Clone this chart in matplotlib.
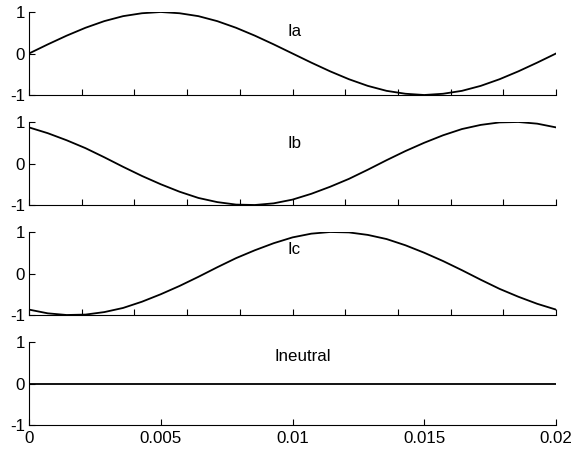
import matplotlib
matplotlib.use("Agg")
import matplotlib.pyplot as plt

plt.rcParams['font.family'] = ['Liberation Sans', 'DejaVu Sans']
plt.rcParams['axes.unicode_minus'] = False

t = [0.0, 0.000714, 0.001429, 0.002143, 0.002857, 0.003571, 0.004286, 0.005,
     0.005714, 0.006429, 0.007143, 0.007857, 0.008571, 0.009286, 0.01,
     0.010714, 0.011429, 0.012143, 0.012857, 0.013571, 0.014286, 0.015,
     0.015714, 0.016429, 0.017143, 0.017857, 0.018571, 0.019286, 0.02]

Ia = [0.0, 0.22, 0.43, 0.62, 0.78, 0.90, 0.97, 1.0, 0.97, 0.90, 0.78, 0.62,
      0.43, 0.22, 0.0, -0.22, -0.43, -0.62, -0.78, -0.90, -0.97, -1.0, -0.97,
      -0.90, -0.78, -0.62, -0.43, -0.22, 0.0]

Ib = [0.87, 0.73, 0.56, 0.37, 0.15, -0.08, -0.30, -0.50, -0.68, -0.83, -0.93,
      -0.99, -1.0, -0.96, -0.87, -0.73, -0.56, -0.37, -0.15, 0.08, 0.30, 0.50,
      0.68, 0.83, 0.93, 0.99, 1.0, 0.96, 0.87]

Ic = [-0.87, -0.96, -1.0, -0.99, -0.93, -0.83, -0.68, -0.50, -0.30, -0.08,
      0.15, 0.37, 0.56, 0.73, 0.87, 0.96, 1.0, 0.99, 0.93, 0.83, 0.68, 0.50,
      0.30, 0.08, -0.15, -0.37, -0.56, -0.73, -0.87]

In = [0.0] * len(t)

series = [Ia, Ib, Ic, In]
names = ['Ia', 'Ib', 'Ic', 'Ineutral']
label_pos = [(0.0098, 0.54), (0.0098, 0.49), (0.0098, 0.57), (0.0093, 0.64)]

minor_ticks = [0, 0.002, 0.004, 0.006, 0.008, 0.01, 0.012, 0.014, 0.016, 0.018, 0.02]
major_ticks = [0, 0.005, 0.01, 0.015, 0.02]
major_labels = ['0', '0.005', '0.01', '0.015', '0.02']
yticks = [-1, 0, 1]
ylabels = ['-1', '0', '1']

W, H = 573, 449
fig = plt.figure(figsize=(W / 100, H / 100), dpi=100)

FS = 12.2
left = 29 / W
width = 527 / W
for i, (y, name, lp) in enumerate(zip(series, names, label_pos)):
    top = 12 + 110 * i
    bot = 95 + 110 * i
    ax = fig.add_axes([left, 1 - bot / H, width, (bot - top) / H])
    ax.plot(t, y, color='black', linewidth=1.3)
    ax.set_xlim(0, 0.02)
    ax.set_ylim(-1, 1)
    for s in ['top', 'right']:
        ax.spines[s].set_visible(False)
    for s in ['left', 'bottom']:
        ax.spines[s].set_linewidth(0.8)
        ax.spines[s].set_color('black')
    ax.set_yticks(yticks)
    ax.set_yticklabels(ylabels)
    if i < 3:
        ax.set_xticks(minor_ticks)
        ax.set_xticklabels([])
    else:
        ax.set_xticks(major_ticks)
        ax.set_xticklabels(major_labels)
    ax.tick_params(direction='in', length=4, width=0.8, labelsize=FS)
    ax.tick_params(axis='x', pad=4)
    ax.tick_params(axis='y', pad=3)
    ax.patch.set_alpha(0)
    ax.text(lp[0], lp[1], name, fontsize=FS, ha='left', va='center')

fig.savefig('out.png', dpi=100)
